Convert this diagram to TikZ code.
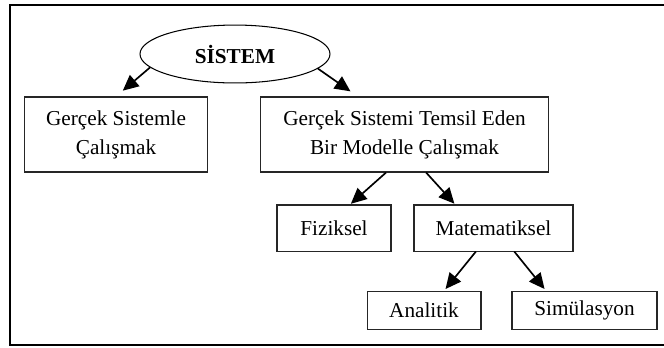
\documentclass[tikz,border=0pt]{standalone}
\usepackage{fontspec}
\setmainfont{Liberation Serif}
\usetikzlibrary{arrows.meta,calc,shapes.geometric}

\begin{document}
\begin{tikzpicture}[x=0.48pt, y=-0.48pt, > = {Triangle[length=7.5pt,width=7pt]}, font=\fontsize{10.2}{13.9}\selectfont]
                \tikzstyle{box}=[rectangle, draw=black!85, line width=0.5pt, inner sep=0pt, align=center]
                \tikzstyle{ok}=[->, line width=0.8pt]

                    \useasboundingbox (0,0) rectangle (664,347);
                    \draw[line width=1pt] (10,5) rectangle (672,345);

                    % Düğümler
                    \node[ellipse, draw, line width=0.5pt, inner sep=0pt, minimum width=91.2pt, minimum height=27.8pt, font=\fontsize{10.2}{13.9}\selectfont\bfseries] (sistem) at (235,54) {SİSTEM};
                    \node[box, minimum width=87.4pt, minimum height=36pt] (gercek) at (116,134.5) {Gerçek Sistemle\\Çalışmak};
                    \node[box, minimum width=137.8pt, minimum height=36pt] (model) at (404.5,134.5) {Gerçek Sistemi Temsil Eden\\Bir Modelle Çalışmak};
                    \node[box, minimum width=54.7pt, minimum height=22.1pt] (fiz) at (334,228) {Fiziksel};
                    \node[box, minimum width=76.3pt, minimum height=22.1pt] (mat) at (493.5,228) {Matematiksel};
                    \node[box, minimum width=54.7pt, minimum height=17.8pt] (ana) at (424,310.5) {Analitik};
                    \node[box, minimum width=69.6pt, minimum height=17.8pt] (sim) at (584.5,310.5) {Simülasyon};

                    % Oklar
                    \draw[ok, shorten > = 4.3pt] (sistem.189.4) -- (gercek.north);
                    \draw[ok, shorten > = 4.3pt] (sistem.350.3) -- ($(model.north west)!0.338!(model.north east)$);
                    \draw[ok, shorten > = 0.5pt] ($(model.south west)!0.436!(model.south east)$) -- ($(fiz.north west)!0.64!(fiz.north east)$);
                    \draw[ok, shorten > = 0.5pt] ($(model.south west)!0.575!(model.south east)$) -- ($(mat.north west)!0.26!(mat.north east)$);
                    \draw[ok, shorten > = 1.5pt] ($(mat.south west)!0.39!(mat.south east)$) -- ($(ana.north west)!0.67!(ana.north east)$);
                    \draw[ok, shorten > = 1.5pt] ($(mat.south west)!0.63!(mat.south east)$) -- ($(sim.north west)!0.24!(sim.north east)$);
            \end{tikzpicture}
\end{document}
